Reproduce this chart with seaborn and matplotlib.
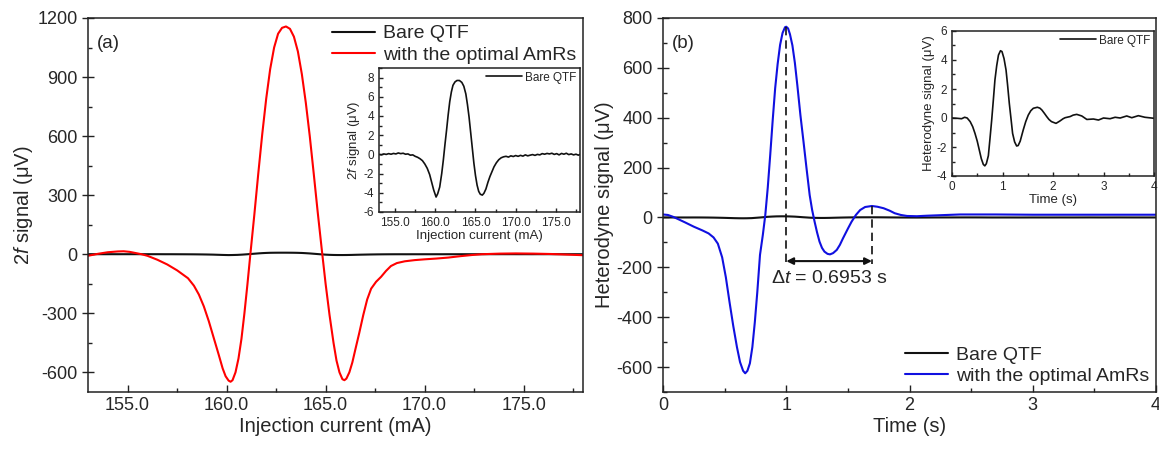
import numpy as np
import pandas as pd
import matplotlib
matplotlib.use("Agg")
import matplotlib.pyplot as plt
import seaborn as sns
from matplotlib.ticker import MultipleLocator, FormatStrFormatter

# ---- (a) 2f signal vs injection current ----
amr_current = [153.0, 153.5, 154.0, 154.5, 154.8, 155.1, 155.4, 155.7, 156.0, 156.5, 157.0, 157.5,
               158.05, 158.35, 158.6, 158.85, 159.1, 159.35, 159.6, 159.8, 159.95, 160.1, 160.2,
               160.3, 160.45, 160.6, 160.75, 160.9, 161.05, 161.2, 161.4, 161.6, 161.8, 162.0,
               162.2, 162.4, 162.6, 162.8, 163.0, 163.2, 163.4, 163.6, 163.8, 164.0, 164.2, 164.4,
               164.6, 164.8, 165.0, 165.2, 165.4, 165.55, 165.7, 165.85, 165.95, 166.05, 166.2,
               166.35, 166.5, 166.7, 166.9, 167.1, 167.3, 167.55, 167.8, 168.05, 168.3, 168.6,
               169.0, 169.5, 170.0, 170.6, 171.2, 171.8, 172.4, 172.9, 173.8, 174.6, 175.5, 176.4,
               177.2, 178.0]
amr_signal = [-8, 2, 10, 14, 15, 12, 6, 0, -8, -28, -52, -82,
              -122, -160, -205, -265, -340, -425, -510, -580, -620, -642, -648,
              -640, -600, -530, -430, -300, -155, 0, 200, 410, 610, 790,
              940, 1050, 1120, 1150, 1157, 1145, 1105, 1030, 915, 770, 600, 410,
              215, 30, -150, -310, -450, -540, -600, -635, -640, -632, -600,
              -550, -485, -400, -310, -230, -175, -140, -115, -85, -60, -45,
              -36, -30, -26, -22, -17, -10, -4, 0, 3, 4, 3, 1,
              -2, -5]

bare_current = [153.0, 153.3, 153.6, 153.9, 154.2, 154.5, 154.8, 155.1, 155.4, 155.7, 156.0, 156.3,
                156.6, 156.9, 157.2, 157.5, 157.8, 158.1, 158.4, 158.7, 159.0, 159.3, 159.55, 159.8,
                160.1, 160.3, 160.55, 160.8, 161.0, 161.2, 161.4, 161.6, 161.8, 162.0, 162.2, 162.45,
                162.7, 163.0, 163.3, 163.55, 163.8, 164.0, 164.2, 164.4, 164.6, 164.8, 165.0, 165.2,
                165.4, 165.6, 165.85, 166.05, 166.3, 166.55, 166.8, 167.0, 167.3, 167.6, 167.9, 168.2,
                168.5, 168.8, 169.1, 169.4, 169.7, 170.0, 170.3, 170.6, 170.9, 171.2, 171.5, 171.8,
                172.1, 172.4, 172.7, 173.0, 173.3, 173.6, 173.9, 174.2, 174.5, 174.8, 175.1, 175.4,
                175.7, 176.0, 176.3, 176.6, 176.9, 177.2, 177.5, 177.8, 178.0]
bare_signal = [0.0, -0.05, 0.05, 0.0, 0.08, 0.02, 0.1, 0.05, 0.15, 0.08, 0.12, 0.02,
               0.05, -0.08, -0.05, -0.2, -0.3, -0.45, -0.65, -1.0, -1.45, -2.1, -2.9, -3.7,
               -4.44, -4.1, -3.4, -2.0, -0.6, 1.0, 2.5, 4.1, 5.5, 6.5, 7.2, 7.55,
               7.7, 7.7, 7.5, 7.1, 6.3, 5.2, 3.9, 2.3, 0.7, -0.9, -2.2, -3.2,
               -3.85, -4.15, -4.24, -4.05, -3.6, -2.9, -2.3, -1.9, -1.3, -0.87, -0.55, -0.35,
               -0.25, -0.2, -0.28, -0.15, -0.22, -0.12, -0.2, -0.1, -0.18, -0.05, -0.15, -0.08,
               -0.02, -0.1, 0.0, -0.05, 0.08, 0.02, 0.1, 0.05, 0.12, 0.0, 0.08, -0.05,
               0.1, 0.02, 0.12, -0.02, 0.05, -0.05, 0.02, -0.08, 0.0]

# ---- (b) heterodyne signal vs time ----
amr_time = [0.0, 0.04, 0.08, 0.12, 0.18, 0.25, 0.32, 0.37, 0.41, 0.445, 0.48, 0.51, 0.54, 0.57,
            0.60, 0.625, 0.65, 0.667, 0.685, 0.705, 0.725, 0.745, 0.765, 0.787, 0.81, 0.83, 0.85,
            0.87, 0.89, 0.91, 0.93, 0.95, 0.97, 0.99, 1.0, 1.015, 1.03, 1.05, 1.07, 1.09, 1.115,
            1.14, 1.165, 1.19, 1.21, 1.23, 1.25, 1.27, 1.29, 1.31, 1.335, 1.355, 1.38, 1.41,
            1.435, 1.46, 1.5, 1.53, 1.565, 1.60, 1.64, 1.695, 1.74, 1.79, 1.84, 1.88, 1.93, 1.98,
            2.06, 2.14, 2.3, 2.41, 2.7, 3.0, 3.4, 3.8, 4.0]
amr_het = [12, 10, 3, -6, -20, -37, -52, -64, -80, -105, -160, -240, -340, -435,
           -520, -580, -615, -625, -615, -585, -520, -420, -300, -150, -70, 10, 120,
           251, 390, 518, 615, 692, 740, 763, 765, 758, 735, 690, 620, 530, 410,
           304, 195, 90, 30, -17, -60, -97, -122, -137, -146, -148, -143, -130,
           -110, -84, -45, -17, 10, 30, 42, 46, 43, 37, 27, 17, 10, 6,
           5, 7, 10, 12, 12, 11, 11, 11, 11]

bare_time = [0.0, 0.1, 0.19, 0.25, 0.3, 0.36, 0.41, 0.455, 0.5, 0.54, 0.58, 0.62, 0.65, 0.68,
             0.72, 0.75, 0.786, 0.82, 0.85, 0.885, 0.92, 0.96, 0.99, 1.03, 1.07, 1.1, 1.135, 1.17,
             1.2, 1.24, 1.28, 1.31, 1.35, 1.41, 1.46, 1.51, 1.56, 1.61, 1.69, 1.74, 1.78, 1.83,
             1.875, 1.92, 1.97, 2.06, 2.14, 2.2, 2.24, 2.34, 2.4, 2.47, 2.57, 2.67, 2.8, 2.9,
             3.0, 3.13, 3.23, 3.33, 3.46, 3.56, 3.69, 3.82, 4.0]
bare_het = [0.0, -0.02, -0.05, 0.05, 0.0, -0.25, -0.6, -1.06, -1.6, -2.2, -2.8, -3.2, -3.3, -3.15,
            -2.6, -1.5, -0.14, 1.3, 2.62, 3.6, 4.34, 4.64, 4.58, 4.1, 3.31, 2.3, 1.0, -0.1,
            -1.06, -1.65, -1.93, -1.9, -1.6, -0.83, -0.25, 0.2, 0.5, 0.67, 0.74, 0.68, 0.55, 0.32,
            0.1, -0.1, -0.25, -0.37, -0.2, -0.05, 0.02, 0.1, 0.2, 0.25, 0.14, -0.1, -0.07, -0.14,
            0.0, -0.05, 0.05, 0.0, 0.14, 0.02, 0.16, 0.05, -0.02]

delta_t = 0.6953

sns.set_style("ticks")
plt.rcParams["font.family"] = ["Liberation Sans", "DejaVu Sans"]
plt.rcParams["mathtext.fontset"] = "custom"
plt.rcParams["mathtext.rm"] = "Liberation Sans"
plt.rcParams["mathtext.it"] = "Liberation Sans:italic"
plt.rcParams["axes.unicode_minus"] = False
plt.rcParams["axes.linewidth"] = 1.1
plt.rcParams["xtick.direction"] = "in"
plt.rcParams["ytick.direction"] = "in"
plt.rcParams["lines.solid_joinstyle"] = "round"

W, H = 1159, 453
fig = plt.figure(figsize=(W / 100, H / 100), dpi=100)


def box(x0, y0, x1, y1):
    return [x0 / W, 1 - y1 / H, (x1 - x0) / W, (y1 - y0) / H]


def style_ticks(ax, size, major=5, minor=3):
    ax.tick_params(axis="both", which="major", labelsize=size, length=major, width=1, color="#222222")
    ax.tick_params(axis="both", which="minor", length=minor, width=1, color="#222222")
    ax.tick_params(axis="y", which="major", direction="inout", length=major * 1.6)
    for s in ax.spines.values():
        s.set_visible(True)
        s.set_color("#222222")


df_a = pd.concat([
    pd.DataFrame({"x": bare_current, "y": bare_signal, "s": "Bare QTF"}),
    pd.DataFrame({"x": amr_current, "y": amr_signal, "s": "with the optimal AmRs"}),
])
df_b = pd.concat([
    pd.DataFrame({"x": bare_time, "y": bare_het, "s": "Bare QTF"}),
    pd.DataFrame({"x": amr_time, "y": amr_het, "s": "with the optimal AmRs"}),
])

# ---------------- panel (a) ----------------
ax1 = fig.add_axes(box(88, 18, 583, 392))
sns.lineplot(data=df_a, x="x", y="y", hue="s", palette=["#111111", "#ff0000"], sort=False,
             estimator=None, linewidth=1.5, ax=ax1)
ax1.set_xlim(153, 178)
ax1.set_ylim(-700, 1200)
ax1.xaxis.set_major_locator(MultipleLocator(5))
ax1.xaxis.set_minor_locator(MultipleLocator(2.5))
ax1.xaxis.set_major_formatter(FormatStrFormatter("%.1f"))
ax1.yaxis.set_major_locator(MultipleLocator(300))
ax1.yaxis.set_minor_locator(MultipleLocator(150))
style_ticks(ax1, 13)
ax1.set_xlabel("Injection current (mA)", fontsize=14.5, labelpad=2)
ax1.set_ylabel("2$\\it{f}$ signal (μV)", fontsize=14.5, labelpad=2)
ax1.text(0.018, 0.955, "(a)", transform=ax1.transAxes, fontsize=13.5, va="top")
ax1.legend(loc="upper right", frameon=False, fontsize=14, handlelength=2.2, handletextpad=0.4,
           labelspacing=0.2, borderpad=0.1, borderaxespad=0.25)

# inset (a)
ins1 = fig.add_axes(box(379, 68, 580, 212))
sns.lineplot(x=bare_current, y=bare_signal, color="#111111", linewidth=1.2, sort=False,
             estimator=None, label="Bare QTF", ax=ins1)
ins1.set_xlim(153, 178)
ins1.set_ylim(-6, 9)
ins1.xaxis.set_major_locator(MultipleLocator(5))
ins1.xaxis.set_minor_locator(MultipleLocator(2.5))
ins1.xaxis.set_major_formatter(FormatStrFormatter("%.1f"))
ins1.yaxis.set_major_locator(MultipleLocator(2))
ins1.yaxis.set_minor_locator(MultipleLocator(1))
style_ticks(ins1, 8.5, major=3, minor=2)
ins1.tick_params(axis="y", which="major", direction="in", length=3)
ins1.set_xlabel("Injection current (mA)", fontsize=9.5, labelpad=1)
ins1.set_ylabel("2$\\it{f}$ signal (μV)", fontsize=9.5, labelpad=1)
ins1.legend(loc="upper right", frameon=False, fontsize=8.5, handlelength=3, handletextpad=0.3,
            borderpad=0.1, borderaxespad=0.2)

# ---------------- panel (b) ----------------
ax2 = fig.add_axes(box(663, 18, 1156, 392))
sns.lineplot(data=df_b, x="x", y="y", hue="s", palette=["#111111", "#1010e0"], sort=False,
             estimator=None, linewidth=1.5, ax=ax2)
ax2.set_xlim(0, 4)
ax2.set_ylim(-700, 800)
ax2.xaxis.set_major_locator(MultipleLocator(1))
ax2.xaxis.set_minor_locator(MultipleLocator(0.5))
ax2.yaxis.set_major_locator(MultipleLocator(200))
ax2.yaxis.set_minor_locator(MultipleLocator(100))
style_ticks(ax2, 13)
ax2.set_xlabel("Time (s)", fontsize=14.5, labelpad=2)
ax2.set_ylabel("Heterodyne signal (μV)", fontsize=14.5, labelpad=2)
ax2.text(0.018, 0.955, "(b)", transform=ax2.transAxes, fontsize=13.5, va="top")
ax2.legend(loc="lower right", frameon=False, fontsize=14, handlelength=2.2, handletextpad=0.4,
           labelspacing=0.2, borderpad=0.1, borderaxespad=0.25)

# delta t annotation
i_peak = int(np.argmax(amr_het))
t1 = amr_time[i_peak]
t2 = t1 + delta_t
y2 = float(np.interp(t2, amr_time, amr_het))
ax2.plot([t1, t1], [amr_het[i_peak], -185], ls=(0, (5, 3)), color="#111111", lw=1.2)
ax2.plot([t2, t2], [y2, -185], ls=(0, (5, 3)), color="#111111", lw=1.2)
ax2.annotate("", xy=(t2, -175), xytext=(t1, -175),
             arrowprops=dict(arrowstyle="<|-|>", color="#111111", lw=1.5,
                             mutation_scale=10, shrinkA=0, shrinkB=0))
ax2.text((t1 + t2) / 2, -245, "Δ$\\it{t}$ = 0.6953 s", fontsize=14, ha="center", va="center")

# inset (b)
ins2 = fig.add_axes(box(952, 31, 1154, 176))
sns.lineplot(x=bare_time, y=bare_het, color="#111111", linewidth=1.2, sort=False,
             estimator=None, label="Bare QTF", ax=ins2)
ins2.set_xlim(0, 4)
ins2.set_ylim(-4, 6)
ins2.xaxis.set_major_locator(MultipleLocator(1))
ins2.xaxis.set_minor_locator(MultipleLocator(0.5))
ins2.yaxis.set_major_locator(MultipleLocator(2))
ins2.yaxis.set_minor_locator(MultipleLocator(1))
style_ticks(ins2, 8.5, major=3, minor=2)
ins2.tick_params(axis="y", which="major", direction="in", length=3)
ins2.set_xlabel("Time (s)", fontsize=9.5, labelpad=1)
ins2.set_ylabel("Heterodyne signal (μV)", fontsize=9.5, labelpad=1)
ins2.legend(loc="upper right", frameon=False, fontsize=8.5, handlelength=3, handletextpad=0.3,
            borderpad=0.1, borderaxespad=0.2)

fig.savefig("out.png", dpi=100)
